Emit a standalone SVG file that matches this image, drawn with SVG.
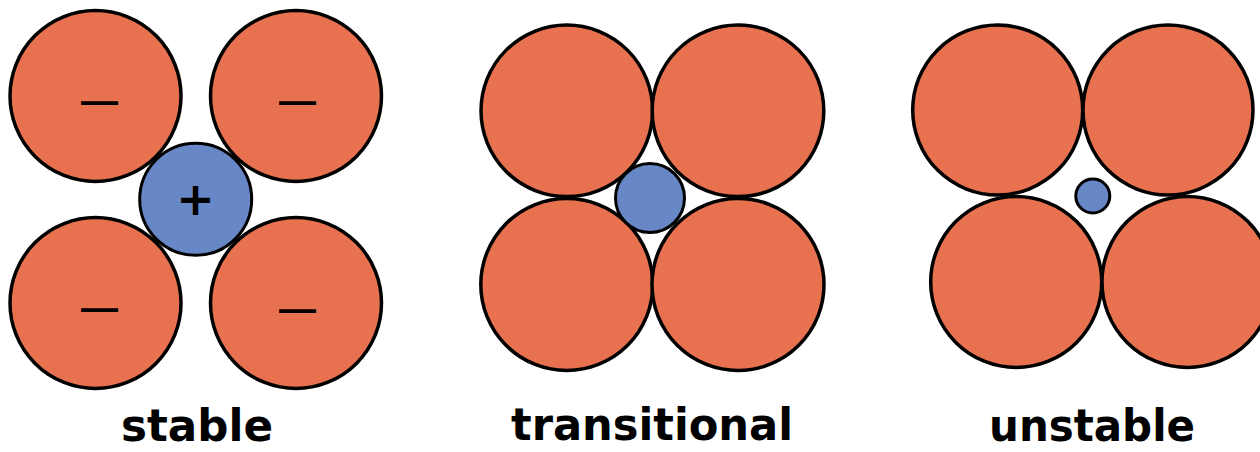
<svg xmlns="http://www.w3.org/2000/svg" width="1260" height="452" viewBox="0 0 1260 452">
<style>
.big{fill:#E8714F;stroke:#000;stroke-width:3.5}
.ion{fill:#6787C6;stroke:#000;stroke-width:3}
.sign{font-family:"Liberation Sans",Arial,sans-serif;font-weight:bold;fill:#000;text-anchor:middle}
.plus{font-family:"DejaVu Sans",sans-serif;font-weight:bold;fill:#000;text-anchor:middle}
.lbl{font-family:"Comic Sans MS","DejaVu Sans",sans-serif;font-weight:bold;font-size:44px;fill:#000}
</style>
<rect width="1260" height="452" fill="#fff"/>
<g id="stable">
<circle class="big" cx="95.5" cy="96" r="85.5"/>
<circle class="big" cx="296" cy="96" r="85.5"/>
<circle class="big" cx="95.5" cy="303" r="85.5"/>
<circle class="big" cx="296" cy="303" r="85.5"/>
<circle class="ion" cx="195.7" cy="199.3" r="56"/>
<text class="sign" x="99.5" y="112.8" font-size="37">—</text>
<text class="sign" x="297.5" y="112.8" font-size="37">—</text>
<text class="sign" x="99.5" y="319.8" font-size="37">—</text>
<text class="sign" x="297.5" y="320.8" font-size="37">—</text>
<text class="plus" x="195.6" y="215" font-size="46">+</text>
<text class="lbl" x="121" y="441" textLength="152" lengthAdjust="spacingAndGlyphs">stable</text>
</g>
<g id="transitional">
<circle class="big" cx="566.8" cy="110.8" r="85.8"/>
<circle class="big" cx="738" cy="110.8" r="85.8"/>
<circle class="big" cx="566.8" cy="284.5" r="86"/>
<circle class="big" cx="738" cy="284.5" r="86"/>
<circle class="ion" cx="650" cy="198" r="34.5"/>
<text class="lbl" x="511" y="440" textLength="282" lengthAdjust="spacingAndGlyphs">transitional</text>
</g>
<g id="unstable">
<circle class="big" cx="997.7" cy="110" r="85"/>
<circle class="big" cx="1168" cy="110" r="85"/>
<circle class="big" cx="1016.2" cy="282" r="85.5"/>
<circle class="big" cx="1187.5" cy="282" r="85.5"/>
<circle class="ion" cx="1092.8" cy="196" r="17"/>
<text class="lbl" x="989" y="441" textLength="206" lengthAdjust="spacingAndGlyphs">unstable</text>
</g>
<g id="connectors"/>
</svg>
